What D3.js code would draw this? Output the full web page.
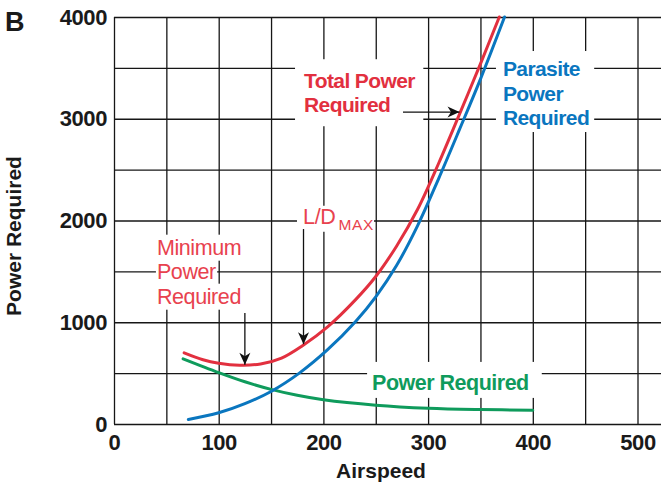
<!DOCTYPE html>
<html><head><meta charset="utf-8">
<script src="https://cdn.jsdelivr.net/npm/d3@7"></script>
<style>
html,body{margin:0;padding:0;background:#fff;}
svg{display:block;font-family:"Liberation Sans",Arial,Helvetica,sans-serif;}
</style></head><body>
<svg id="chart" width="661" height="493"></svg>
<script>
// ---- data ----
const xTicks = [0, 100, 200, 300, 400, 500];
const yTicks = [0, 1000, 2000, 3000, 4000];
const xGrid = [0, 50, 100, 150, 200, 250, 300, 350, 400, 450, 500];
const yGrid = [0, 500, 1000, 1500, 2000, 2500, 3000, 3500, 4000];

const totalSpeed = [67, 85, 100, 120, 140, 160, 180, 204, 231, 250, 270, 290, 310, 330, 350, 368];
const totalPower = [700, 632, 598, 578, 590, 648, 770, 955, 1225, 1450, 1750, 2110, 2560, 3045, 3540, 4000];

const parasiteSpeed = [71, 100, 125, 150, 177, 204, 231, 250, 270, 290, 310, 330, 350, 373];
const parasitePower = [45, 110, 200, 320, 500, 730, 1010, 1250, 1560, 1950, 2410, 2895, 3390, 4000];

const inducedSpeed = [66, 100, 125, 150, 175, 200, 250, 300, 350, 400];
const inducedPower = [640, 505, 415, 340, 282, 238, 185, 155, 142, 136];

// annotation anchors (data units)
const minPowerSpeed = 125, minPowerArrowTop = 1090, minPowerValue = 582;
const ldMaxSpeed = 181, ldArrowTop = 1916, ldValue = 785;
const totalArrowPower = 3066, totalArrowFrom = 276, totalArrowTo = 330;

const colors = {red: "#e2303f", redLight: "#e8424e", blue: "#0a76bf", green: "#0f9b5c", grid: "#161616"};

// ---- scales ----
const svg = d3.select("#chart");
const x = d3.scaleLinear().domain([0, 525]).range([114, 114 + 525 * 1.047]);
const y = d3.scaleLinear().domain([0, 4000]).range([424, 17]);

const gridLayer = svg.append("g");
const boxLayer = svg.append("g");
const curveLayer = svg.append("g");
const textLayer = svg.append("g");

// grid via axes
gridLayer.append("g")
  .attr("transform", `translate(0,${y(0)})`)
  .call(d3.axisBottom(x).tickValues(xGrid).tickSize(-(y(0) - y(4000))).tickFormat(""))
  .call(g => g.select(".domain").remove())
  .call(g => g.selectAll("line").attr("stroke", colors.grid).attr("stroke-width", 1.3));
gridLayer.append("g")
  .attr("transform", `translate(${x(0)},0)`)
  .call(d3.axisLeft(y).tickValues(yGrid).tickSize(-(x(525) - x(0))).tickFormat(""))
  .call(g => g.select(".domain").remove())
  .call(g => g.selectAll("line").attr("stroke", colors.grid).attr("stroke-width", 1.3));

// tick labels
const xAxis = svg.append("g")
  .attr("transform", `translate(0,${y(0)})`)
  .call(d3.axisBottom(x).tickValues(xTicks).tickSize(0).tickPadding(10).tickFormat(d3.format("d")));
const yAxis = svg.append("g")
  .attr("transform", `translate(${x(0)},0)`)
  .call(d3.axisLeft(y).tickValues(yTicks).tickSize(0).tickPadding(7).tickFormat(d3.format("d")));
[xAxis, yAxis].forEach(a => {
  a.select(".domain").remove();
  a.selectAll("text").attr("font-size", 22).attr("font-weight", "bold")
    .attr("letter-spacing", -0.4).attr("fill", "#1a1a1a")
    .attr("font-family", '"Liberation Sans",Arial,sans-serif');
});

// arrow marker
const defs = svg.append("defs");
defs.append("marker").attr("id", "arrow")
  .attr("viewBox", "-13 -6 14 12").attr("refX", 0).attr("refY", 0)
  .attr("markerWidth", 14).attr("markerHeight", 12)
  .attr("markerUnits", "userSpaceOnUse").attr("orient", "auto")
  .append("path").attr("d", "M0,0 L-12,-5.5 L-8.5,0 L-12,5.5 Z").attr("fill", "#111");

// curves
const line = d3.line().x(d => x(d[0])).y(d => y(d[1])).curve(d3.curveCatmullRom.alpha(0.5));
const series = [
  {sp: inducedSpeed, pw: inducedPower, c: colors.green},
  {sp: parasiteSpeed, pw: parasitePower, c: colors.blue},
  {sp: totalSpeed, pw: totalPower, c: colors.red}
];
series.forEach(s => {
  curveLayer.append("path")
    .datum(d3.zip(s.sp, s.pw))
    .attr("d", line).attr("fill", "none")
    .attr("stroke", s.c).attr("stroke-width", 3).attr("stroke-linecap", "round");
});

// arrows
const arrows = [
  [[minPowerSpeed, minPowerArrowTop], [minPowerSpeed, minPowerValue]],
  [[ldMaxSpeed, ldArrowTop], [ldMaxSpeed, ldValue]],
  [[totalArrowFrom, totalArrowPower], [totalArrowTo, totalArrowPower]]
];
arrows.forEach(a => {
  textLayer.append("line")
    .attr("x1", x(a[0][0])).attr("y1", y(a[0][1]))
    .attr("x2", x(a[1][0])).attr("y2", y(a[1][1]))
    .attr("stroke", "#111").attr("stroke-width", 1.3)
    .attr("marker-end", "url(#arrow)");
});

// labels with white boxes
function label(lines, opt) {
  const g = textLayer.append("g");
  const nodes = [];
  lines.forEach((t, i) => {
    const tx = g.append("text")
      .attr("x", x(opt.speed)).attr("y", y(opt.power) + i * opt.lh)
      .attr("font-size", opt.size).attr("font-weight", opt.weight)
      .attr("letter-spacing", opt.ls || 0).attr("fill", opt.color)
      .text(t);
    nodes.push(tx.node());
  });
  const p = opt.pad;
  const boxes = opt.perLine ? nodes.map(n => n.getBBox()) : [g.node().getBBox()];
  boxes.forEach(b => {
    boxLayer.append("rect").attr("x", b.x - p[3]).attr("y", b.y - p[0])
      .attr("width", b.width + p[1] + p[3]).attr("height", b.height + p[0] + p[2])
      .attr("fill", "#fff");
  });
  return g;
}

label(["Total Power", "Required"], {speed: 181.5, power: 3300, lh: 24, size: 21, weight: "bold", ls: -0.6, color: colors.red, pad: [10, 8, 10, 9]});
label(["Parasite", "Power", "Required"], {speed: 371.5, power: 3420, lh: 24.5, size: 21, weight: "bold", ls: -0.6, color: colors.blue, pad: [6, 5, 3, 7]});
label(["Minimum", "Power", "Required"], {speed: 41, power: 1664, lh: 24.5, size: 21.5, weight: "normal", ls: -0.4, color: colors.redLight, pad: [1, 1, 1, 1], perLine: true});
label(["Power Required"], {speed: 246.5, power: 335, lh: 0, size: 21.5, weight: "bold", ls: -0.5, color: colors.green, pad: [9, 13, 3, 5]});

// L/D MAX
const ld = textLayer.append("text")
  .attr("x", x(180.5)).attr("y", y(1968))
  .attr("font-size", 21.5).attr("fill", colors.redLight).attr("letter-spacing", -0.3);
ld.append("tspan").text("L/D");
ld.append("tspan").attr("font-size", 15.5).attr("dx", 3).attr("dy", 6).attr("letter-spacing", 0.6).text("MAX");
{
  const b = ld.node().getBBox();
  boxLayer.append("rect").attr("x", b.x - 6).attr("y", b.y + 1)
    .attr("width", b.width + 6).attr("height", b.height - 2).attr("fill", "#fff");
}

// titles
svg.append("text").attr("x", 5).attr("y", 31).attr("font-size", 27).attr("font-weight", "bold")
  .attr("fill", "#1a1a1a").text("B");
svg.append("text").attr("x", 381).attr("y", 478).attr("text-anchor", "middle")
  .attr("font-size", 21).attr("font-weight", "bold").attr("fill", "#1a1a1a").text("Airspeed");
svg.append("text").attr("transform", "translate(21,236) rotate(-90)").attr("text-anchor", "middle")
  .attr("font-size", 21).attr("font-weight", "bold").attr("fill", "#1a1a1a").text("Power Required");
</script>
</body></html>
